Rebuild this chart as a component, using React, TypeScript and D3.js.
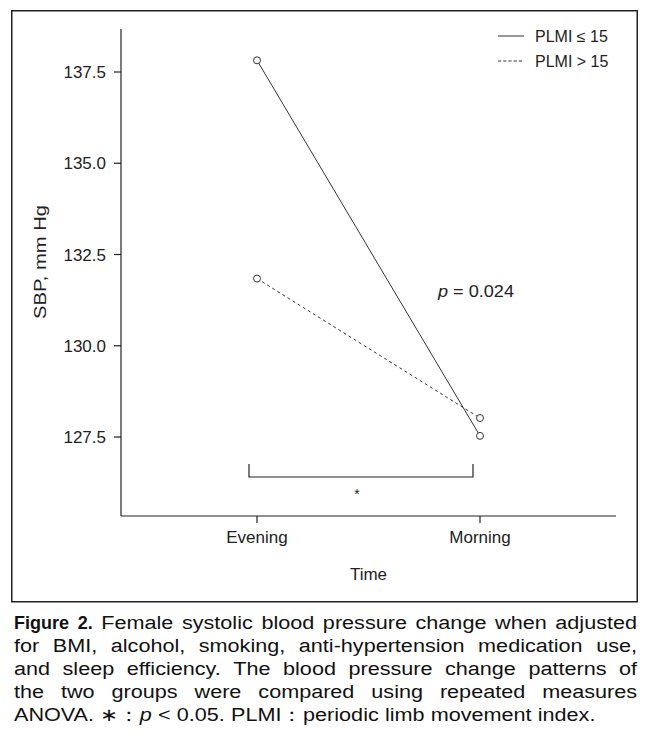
import React from "react";
import * as d3 from "d3";

const categories = ["Evening", "Morning"];
const seriesNames = ["PLMI ≤ 15", "PLMI > 15"];
const lowPLMI = [137.82, 127.53];
const highPLMI = [131.84, 128.02];
const yTicks = [127.5, 130.0, 132.5, 135.0, 137.5];
const pLabel = "0.024";
const captionLines = [
  "Figure 2. Female systolic blood pressure change when adjusted",
  "for BMI, alcohol, smoking, anti-hypertension medication use,",
  "and sleep efficiency. The blood pressure change patterns of",
  "the two groups were compared using repeated measures",
  "ANOVA. ∗：p < 0.05. PLMI：periodic limb movement index.",
];

const FONT = "'Liberation Sans', Arial, sans-serif";
const INK = "#222";

let ctx: CanvasRenderingContext2D | null = null;
function measure(text: string, weight: string, style: string, size: number) {
  if (!ctx) {
    const c = document.createElement("canvas");
    ctx = c.getContext("2d");
  }
  if (!ctx) return text.length * size * 0.5;
  ctx.font = `${style} ${weight} ${size}px 'Liberation Sans', Arial, sans-serif`;
  return ctx.measureText(text).width;
}

function Caption() {
  const left = 14;
  const right = 637;
  const size = 18;
  const baseY = 629;
  const lh = 23;
  const K = 1.2;
  const minGap = 5;
  const out: React.ReactNode[] = [];
  captionLines.forEach((line, li) => {
    const words = line.split(" ");
    const parts = words.map((w, wi) => {
      const bold = li === 0 && wi < 2;
      const italic = li === 4 && w === "∗：p";
      const weight = bold ? "bold" : "normal";
      if (italic) {
        const a = "∗：";
        const b = "p";
        const wa = measure(a, weight, "normal", size);
        const wb = measure(b, weight, "italic", size);
        return { w, bold, italic, a, b, wa, wb, nat: wa + wb };
      }
      return { w, bold, italic, nat: measure(w, weight, "normal", size) } as any;
    });
    const isLast = li === captionLines.length - 1;
    const boldSum = parts.filter((p: any) => p.bold).reduce((s: number, p: any) => s + p.nat, 0);
    const normSum = parts.filter((p: any) => !p.bold).reduce((s: number, p: any) => s + p.nat, 0);
    let k = K;
    const avail = right - left - minGap * (parts.length - 1) - boldSum;
    if (normSum * k > avail) k = avail / normSum;
    const widths = parts.map((p: any) => (p.bold ? p.nat : p.nat * k));
    const total = widths.reduce((s: number, v: number) => s + v, 0);
    const gap = isLast ? 6.2 : (right - left - total) / (parts.length - 1);
    let x = left;
    const y = baseY + li * lh;
    parts.forEach((p: any, pi: number) => {
      const w = widths[pi];
      if (p.italic) {
        out.push(
          <text key={`${li}-${pi}a`} x={x} y={y} fontSize={size} fontFamily={FONT} fill="#111"
            textLength={p.wa * k} lengthAdjust="spacingAndGlyphs">
            {p.a}
          </text>
        );
        out.push(
          <text key={`${li}-${pi}b`} x={x + p.wa * k} y={y} fontSize={size} fontFamily={FONT} fontStyle="italic" fill="#111"
            textLength={p.wb * k} lengthAdjust="spacingAndGlyphs">
            {p.b}
          </text>
        );
      } else {
        out.push(
          <text key={`${li}-${pi}`} x={x} y={y} fontSize={size} fontFamily={FONT}
            fontWeight={p.bold ? "bold" : "normal"} fill="#111"
            textLength={w} lengthAdjust="spacingAndGlyphs">
            {p.w}
          </text>
        );
      }
      x += w + gap;
    });
  });
  return <g>{out}</g>;
}

export default function App() {
  const y = d3.scaleLinear().domain([127.5, 137.5]).range([437, 72]);
  const yTop = 29;
  const yBottom = 516;
  const x = d3.scalePoint<string>().domain(categories).range([257, 480]);
  const xLeft = 121;
  const xRight = 616;

  const line = d3
    .line<number>()
    .x((_, i) => x(categories[i]) as number)
    .y((d) => y(d));

  const series = [
    { name: seriesNames[0], values: lowPLMI, dash: "none" },
    { name: seriesNames[1], values: highPLMI, dash: "3,3" },
  ];

  const bx0 = 249;
  const bx1 = 473;
  const byTop = 464;
  const byBot = 477;

  return (
    <svg
      width={650}
      height={742}
      style={{ position: "absolute", left: 0, top: 0, background: "#fff" }}
      fontFamily={FONT}
    >
      <rect x={0} y={0} width={650} height={742} fill="#fff" />
      {/* frame */}
      <rect x={11.75} y={10.75} width={625.5} height={591} fill="none" stroke="#222" strokeWidth={1.5} />

      {/* y axis */}
      <line x1={xLeft} x2={xLeft} y1={yTop} y2={yBottom} stroke={INK} strokeWidth={1.2} />
      {yTicks.map((t) => (
        <g key={t}>
          <line x1={xLeft - 7} x2={xLeft} y1={y(t)} y2={y(t)} stroke={INK} strokeWidth={1.2} />
          <text x={xLeft - 15} y={y(t)} dy="0.36em" textAnchor="end" fontSize={17} fill={INK}>
            {d3.format(".1f")(t)}
          </text>
        </g>
      ))}
      <text
        transform={`translate(46,262) rotate(-90)`}
        textAnchor="middle"
        fontSize={17}
        fill={INK}
        textLength={114}
        lengthAdjust="spacingAndGlyphs"
      >
        SBP, mm Hg
      </text>

      {/* x axis */}
      <line x1={xLeft} x2={xRight} y1={yBottom} y2={yBottom} stroke={INK} strokeWidth={1.2} />
      {categories.map((c) => (
        <g key={c}>
          <line x1={x(c)} x2={x(c)} y1={yBottom} y2={yBottom + 7} stroke={INK} strokeWidth={1.2} />
          <text x={x(c)} y={543} textAnchor="middle" fontSize={17} fill={INK}>
            {c}
          </text>
        </g>
      ))}
      <text x={(xLeft + xRight) / 2} y={580} textAnchor="middle" fontSize={17} fill={INK}>
        Time
      </text>

      {/* series */}
      {series.map((s) => (
        <g key={s.name}>
          <path d={line(s.values) || ""} fill="none" stroke="#333" strokeWidth={1} strokeDasharray={s.dash} />
          {s.values.map((v, i) => (
            <circle key={i} cx={x(categories[i])} cy={y(v)} r={3.5} fill="#fff" stroke="#333" strokeWidth={1} />
          ))}
        </g>
      ))}

      {/* bracket */}
      <path
        d={`M${bx0},${byTop}V${byBot}H${bx1}V${byTop}`}
        fill="none"
        stroke={INK}
        strokeWidth={1.2}
      />
      <text x={(bx0 + bx1) / 2 - 4} y={499} textAnchor="middle" fontSize={14} fill={INK}>
        *
      </text>

      {/* p value */}
      <text x={438} y={297} fontSize={17} fill={INK} textLength={76} lengthAdjust="spacingAndGlyphs">
        <tspan fontStyle="italic">p</tspan>
        <tspan> = {pLabel}</tspan>
      </text>

      {/* legend */}
      {series.map((s, i) => (
        <g key={s.name} transform={`translate(0,${36 + i * 25})`}>
          <line x1={498} x2={524} y1={0} y2={0} stroke="#333" strokeWidth={1} strokeDasharray={s.dash === "none" ? "none" : "3.2,2"} />
          <text x={535} y={0} dy="0.36em" fontSize={16} fill={INK}>
            {s.name}
          </text>
        </g>
      ))}

      <Caption />
    </svg>
  );
}
